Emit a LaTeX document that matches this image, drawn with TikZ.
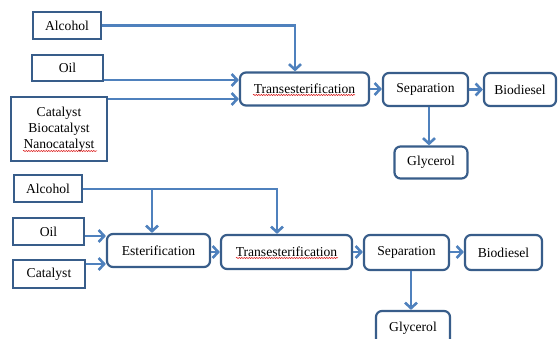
\documentclass[tikz,border=0pt]{standalone}
\usepackage{fontspec}
\setmainfont{Liberation Serif}
\usetikzlibrary{arrows.meta,decorations.pathmorphing}
\definecolor{arrblue}{HTML}{4F81BD}
\definecolor{boxblue}{HTML}{385D8A}
\tikzset{
  inbox/.style={draw=boxblue, line width=2.2pt, fill=white, inner sep=0pt, font=\fontsize{13.6}{16}\selectfont, align=center},
  procbox/.style={inbox, rounded corners=6pt},
  arr/.style={draw=arrblue, line width=2.6pt, -{Straight Barb[length=5.5pt,width=12pt,line width=2.6pt]}},
  feed/.style={draw=arrblue, line width=2.6pt},
  squig/.style={draw=red!85!black, line width=0.5pt, decorate, decoration={snake, amplitude=0.6pt, segment length=2.5pt}}
}
\begin{document}
\begin{tikzpicture}[x=1pt,y=-1pt]
\useasboundingbox (0,0) rectangle (560,339);
\clip (0,0) rectangle (560,339);
% ---------- top process ----------
\node[inbox, minimum width=68pt, minimum height=27pt] (alc1) at (67,25.5) {Alcohol};
\node[inbox, minimum width=71pt, minimum height=26pt] (oil1) at (67.5,68) {Oil};
\node[inbox, minimum width=96pt, minimum height=64pt] (cat1) at (59,129) {Catalyst\\Biocatalyst\\Nanocatalyst};
\node[procbox, minimum width=129pt, minimum height=33pt] (tr1) at (304.5,89) {Transesterification};
\node[procbox, minimum width=85pt, minimum height=33pt] (sep1) at (425.5,89.5) {Separation};
\node[procbox, minimum width=72pt, minimum height=33pt] (bio1) at (520,89.5) {Biodiesel};
\node[procbox, minimum width=73pt, minimum height=32pt] (gly1) at (431,162.5) {Glycerol};

\draw[arr] (alc1.east) -| (tr1.north -| 295,0);
\draw[arr] (oil1.east |- 0,80) -- (tr1.west |- 0,80);
\draw[arr] (cat1.east |- 0,99) -- (tr1.west |- 0,99);
\draw[arr] (tr1.east) -- (sep1.west |- tr1.east);
\draw[arr] (sep1.east) -- (bio1.west |- sep1.east);
\draw[arr] (sep1.south -| 429,0) -- (gly1.north -| 429,0);

% ---------- bottom process ----------
\node[inbox, minimum width=68pt, minimum height=27pt] (alc2) at (48,188.5) {Alcohol};
\node[inbox, minimum width=71pt, minimum height=27pt] (oil2) at (48.5,231.5) {Oil};
\node[inbox, minimum width=72pt, minimum height=28pt] (cat2) at (49,274) {Catalyst};
\node[procbox, minimum width=103pt, minimum height=33pt] (est) at (158.5,250.5) {Esterification};
\node[procbox, minimum width=131pt, minimum height=34pt] (tr2) at (286.5,252) {Transesterification};
\node[procbox, minimum width=85pt, minimum height=35pt] (sep2) at (406.5,252.5) {Separation};
\node[procbox, minimum width=77pt, minimum height=35pt] (bio2) at (503.5,252.5) {Biodiesel};
\node[procbox, minimum width=74pt, minimum height=34pt] (gly2) at (413,328) {Glycerol};

\coordinate (j1) at (152,189);
\draw[feed] (alc2.east |- j1) -- (j1);
\draw[arr] (j1) -| (tr2.north -| 277,0);
\draw[arr] (j1) -- (est.north -| j1);
\draw[arr] (oil2.east |- 0,236) -- (est.west |- 0,236);
\draw[arr] (cat2.east |- 0,264) -- (est.west |- 0,264);
\draw[arr] (est.east |- 0,252) -- (tr2.west |- 0,252);
\draw[arr] (tr2.east |- 0,252) -- (sep2.west |- 0,252);
\draw[arr] (sep2.east |- 0,252) -- (bio2.west |- 0,252);
\draw[arr] (sep2.south -| 411,0) -- (gly2.north -| 411,0);

% spell-check squiggles
\draw[squig] (253,95) -- (355,95);
\draw[squig] (23,151) -- (97,151);
\draw[squig] (236,258) -- (338,258);
\end{tikzpicture}
\end{document}
